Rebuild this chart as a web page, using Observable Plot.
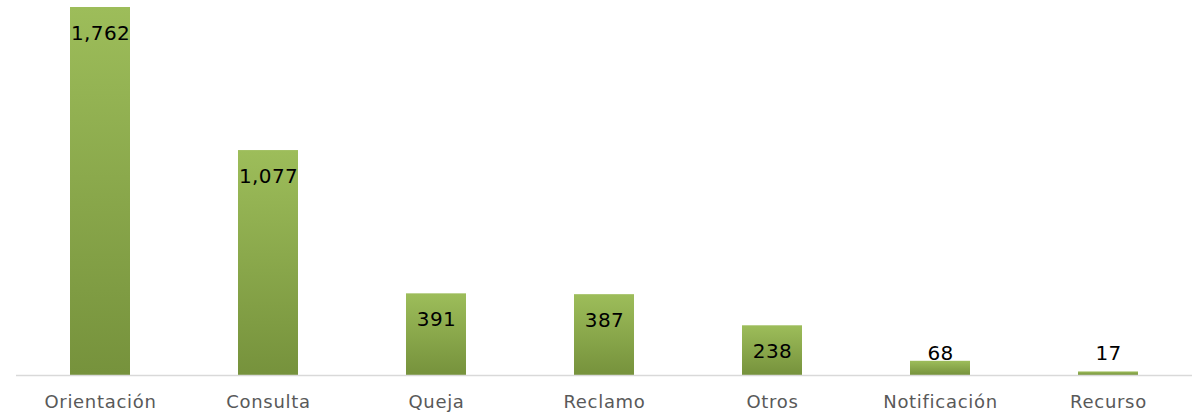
<!DOCTYPE html>
<html>
<head>
<meta charset="utf-8">
<script src="https://cdn.jsdelivr.net/npm/d3@7"></script>
<script src="https://cdn.jsdelivr.net/npm/@observablehq/plot@0.6"></script>
<style>
  html, body { margin: 0; padding: 0; background: #fff; }
  #chart svg { display: block; }
  #chart svg g[aria-label="x-axis tick label"] text { letter-spacing: 0.7px; }
  #chart svg g[aria-label="text"] text { letter-spacing: 0.4px; }
</style>
</head>
<body>
<div id="chart"></div>
<script>
const categories = ["Orientación", "Consulta", "Queja", "Reclamo", "Otros", "Notificación", "Recurso"];
const values = [1762, 1077, 391, 387, 238, 68, 17];

const data = categories.map((c, i) => ({cat: c, value: values[i]}));
const fmt = d3.format(",");
const FONT = "'DejaVu Sans', sans-serif";

const chart = Plot.plot({
  width: 1195,
  height: 417,
  marginTop: 7,
  marginBottom: 42,
  marginLeft: 16,
  marginRight: 3,
  style: {fontFamily: FONT, background: "#fff"},
  x: {domain: categories, paddingInner: 0.643, paddingOuter: 0.3215, label: null},
  y: {domain: [0, 1762], axis: null},
  marks: [
    Plot.barY(data, {x: "cat", y: "value", fill: "url(#barGrad)"}),
    Plot.ruleY([0], {stroke: "#d9d9d9", strokeWidth: 1.5}),
    Plot.text(data.filter(d => d.value >= 200), {
      x: "cat", y: "value", text: d => fmt(d.value),
      dy: 26, fontSize: 20, fill: "#000", fontFamily: FONT
    }),
    Plot.text(data.filter(d => d.value < 200), {
      x: "cat", y: () => 0, text: d => fmt(d.value),
      dy: -22, fontSize: 20, fill: "#000", fontFamily: FONT
    }),
    Plot.axisX({tickSize: 0, tickPadding: 20, fontSize: 18, fill: "#595959", fontFamily: FONT})
  ]
});

const svg = d3.select(chart);
const grad = svg.insert("defs", ":first-child")
  .append("linearGradient")
  .attr("id", "barGrad")
  .attr("x1", 0).attr("y1", 0).attr("x2", 0).attr("y2", 1);
grad.append("stop").attr("offset", "0%").attr("stop-color", "#9dbd5a");
grad.append("stop").attr("offset", "100%").attr("stop-color", "#76923c");

document.getElementById("chart").appendChild(chart);
</script>
</body>
</html>
